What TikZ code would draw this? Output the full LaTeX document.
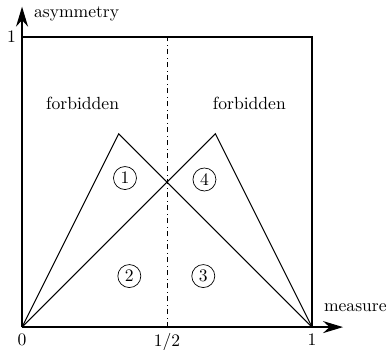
\documentclass[tikz,border=0pt]{standalone}
\usetikzlibrary{arrows.meta}
\tikzset{
  axis/.style={thick,-{Stealth[length=4mm,width=2.4mm]}},
  region/.style={circle,draw,inner sep=0pt,minimum size=0.46cm}
}
\begin{document}
\begin{tikzpicture}[x=5.8cm,y=5.8cm]
  \useasboundingbox (-0.076,-0.076) rectangle (1.262,1.128);
  % Corners
  \coordinate (O) at (0,0);
  \coordinate (E) at (1,0);
  \coordinate (A) at (1/3,2/3);
  \coordinate (B) at (2/3,2/3);
  % Axes and box
  \draw[axis] (O) -- (1.107,0);
  \draw[axis] (O) -- (0,1.105);
  \draw[thick] (0,1) -- (1,1) -- (E);
  \draw[dash dot] (0.5,0) -- (0.5,1);
  % Triangles
  \draw[semithick] (O) -- (A) -- (E);
  \draw[semithick] (O) -- (B) -- (E);
  % Labels
  \node[left] at (0,1) {1};
  \node[below] at (O) {0};
  \node[below] at (0.5,0) {1/2};
  \node[below] at (E) {1};
  \node[right] at (0.02,1.08) {asymmetry};
  \node[right] at (1.02,0.066) {measure};
  \node at (0.209,0.772) {forbidden};
  \node at (0.784,0.772) {forbidden};
  % Regions
  \node[region] (r1) at (0.355,0.514) {1};
  \node[region] (r2) at (0.37,0.176) {2};
  \node[region] (r3) at (0.625,0.176) {3};
  \node[region] (r4) at (0.629,0.509) {4};
\end{tikzpicture}
\end{document}
